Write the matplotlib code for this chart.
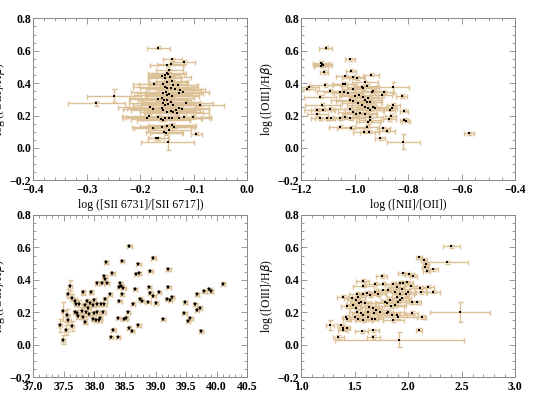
import numpy as np
import matplotlib
matplotlib.use('Agg')
import matplotlib.pyplot as plt
from matplotlib.ticker import AutoMinorLocator, MultipleLocator

plt.rcParams['font.family'] = 'serif'
plt.rcParams['font.serif'] = ['Liberation Serif', 'DejaVu Serif']
plt.rcParams['mathtext.fontset'] = 'custom'
plt.rcParams['mathtext.rm'] = 'Liberation Serif'

# panel 1: log([SII]6731/6717) vs log([OIII]/Hb)
sii_x = [-0.282, -0.249, -0.166, -0.140, -0.143, -0.118, -0.151, -0.146, -0.150, -0.153,
         -0.148, -0.160, -0.154, -0.145, -0.157, -0.174, -0.150, -0.140, -0.138, -0.129,
         -0.126, -0.121, -0.127, -0.154, -0.150, -0.143, -0.135, -0.152, -0.157, -0.151,
         -0.146, -0.140, -0.166, -0.160, -0.155, -0.150, -0.143, -0.157, -0.153, -0.148,
         -0.138, -0.115, -0.088, -0.127, -0.122, -0.134, -0.181, -0.177, -0.160, -0.157,
         -0.150, -0.143, -0.138, -0.132, -0.184, -0.187, -0.166, -0.162, -0.157, -0.154,
         -0.146, -0.140, -0.127, -0.118, -0.101, -0.176, -0.160, -0.151, -0.141, -0.137,
         -0.146, -0.155, -0.152, -0.170, -0.166, -0.095, -0.149]
sii_y = [0.276, 0.322, 0.618, 0.546, 0.519, 0.530, 0.509, 0.478, 0.464, 0.451,
         0.455, 0.441, 0.431, 0.435, 0.396, 0.396, 0.408, 0.410, 0.389, 0.389,
         0.358, 0.348, 0.338, 0.375, 0.369, 0.369, 0.365, 0.348, 0.338, 0.327,
         0.332, 0.323, 0.301, 0.307, 0.297, 0.297, 0.286, 0.276, 0.266, 0.270,
         0.266, 0.280, 0.266, 0.245, 0.239, 0.235, 0.255, 0.241, 0.245, 0.235,
         0.224, 0.228, 0.220, 0.214, 0.200, 0.183, 0.193, 0.179, 0.173, 0.183,
         0.187, 0.183, 0.183, 0.193, 0.191, 0.125, 0.132, 0.138, 0.142, 0.132,
         0.111, 0.101, 0.090, 0.059, 0.059, 0.088, 0.039]
sii_xerr = [0.053, 0.050, 0.022, 0.018, 0.025, 0.020, 0.030, 0.025, 0.035, 0.028,
            0.030, 0.025, 0.030, 0.040, 0.045, 0.040, 0.035, 0.030, 0.045, 0.035,
            0.040, 0.050, 0.045, 0.060, 0.050, 0.040, 0.055, 0.065, 0.050, 0.060,
            0.045, 0.050, 0.055, 0.060, 0.050, 0.045, 0.055, 0.065, 0.060, 0.050,
            0.040, 0.050, 0.045, 0.055, 0.050, 0.045, 0.060, 0.055, 0.065, 0.060,
            0.050, 0.045, 0.055, 0.060, 0.050, 0.045, 0.060, 0.055, 0.050, 0.045,
            0.060, 0.055, 0.060, 0.050, 0.030, 0.035, 0.055, 0.050, 0.045, 0.040,
            0.040, 0.035, 0.030, 0.015, 0.020, 0.010, 0.050]
sii_yerr = [0.015, 0.040, 0.010, 0.010, 0.010, 0.010, 0.010, 0.010, 0.010, 0.010,
            0.010, 0.010, 0.010, 0.010, 0.010, 0.010, 0.010, 0.010, 0.010, 0.010,
            0.010, 0.010, 0.010, 0.010, 0.010, 0.010, 0.010, 0.010, 0.010, 0.010,
            0.010, 0.010, 0.010, 0.010, 0.010, 0.010, 0.010, 0.010, 0.010, 0.010,
            0.010, 0.010, 0.010, 0.010, 0.010, 0.010, 0.010, 0.010, 0.010, 0.010,
            0.010, 0.010, 0.010, 0.010, 0.010, 0.010, 0.010, 0.010, 0.010, 0.010,
            0.010, 0.010, 0.010, 0.010, 0.010, 0.010, 0.010, 0.010, 0.010, 0.010,
            0.010, 0.010, 0.010, 0.010, 0.010, 0.010, 0.050]

# panel 2: log([NII]/[OII]) vs log([OIII]/Hb)
nii_x = [-1.109, -1.018, -1.128, -1.122, -1.126, -1.118, -1.115, -1.014, -0.941, -1.037,
         -1.006, -0.993, -1.112, -1.180, -1.170, -0.859, -1.093, -1.055, -1.039, -1.006,
         -1.024, -0.962, -0.956, -0.974, -0.968, -0.937, -0.931, -0.999, -0.983, -0.968,
         -0.962, -0.950, -0.943, -0.956, -1.130, -0.890, -0.900, -0.825, -1.018, -1.006,
         -0.987, -0.974, -0.962, -0.950, -0.943, -0.931, -0.925, -1.140, -1.120, -1.093,
         -1.121, -0.856, -0.862, -0.869, -1.018, -1.006, -0.996, -0.981, -0.962, -0.943,
         -1.018, -1.055, -1.037, -0.815, -1.140, -1.130, -1.105, -1.090, -0.866, -0.871,
         -0.815, -0.809, -0.943, -0.950, -1.055, -1.016, -0.956, -0.893, -0.879, -0.965,
         -0.946, -0.906, -0.818, -0.573, -1.044, -1.036]
nii_y = [0.618, 0.546, 0.525, 0.515, 0.507, 0.510, 0.468, 0.476, 0.451, 0.441,
         0.435, 0.431, 0.389, 0.365, 0.373, 0.373, 0.352, 0.342, 0.348, 0.365,
         0.338, 0.404, 0.385, 0.379, 0.369, 0.348, 0.352, 0.323, 0.327, 0.317,
         0.297, 0.307, 0.286, 0.282, 0.317, 0.344, 0.327, 0.321, 0.297, 0.290,
         0.276, 0.266, 0.255, 0.245, 0.235, 0.255, 0.245, 0.235, 0.235, 0.241,
         0.266, 0.266, 0.245, 0.235, 0.241, 0.224, 0.208, 0.214, 0.208, 0.193,
         0.183, 0.183, 0.189, 0.229, 0.208, 0.183, 0.183, 0.183, 0.200, 0.177,
         0.173, 0.167, 0.173, 0.158, 0.132, 0.125, 0.132, 0.121, 0.107, 0.101,
         0.101, 0.059, 0.039, 0.091, 0.394, 0.394]
nii_xerr = [0.025, 0.018, 0.030, 0.035, 0.025, 0.030, 0.015, 0.020, 0.030, 0.035,
            0.040, 0.030, 0.060, 0.030, 0.035, 0.060, 0.050, 0.060, 0.045, 0.040,
            0.055, 0.050, 0.045, 0.055, 0.060, 0.050, 0.045, 0.060, 0.070, 0.055,
            0.060, 0.050, 0.045, 0.055, 0.060, 0.035, 0.040, 0.020, 0.070, 0.065,
            0.060, 0.055, 0.050, 0.045, 0.050, 0.055, 0.060, 0.050, 0.045, 0.055,
            0.065, 0.025, 0.020, 0.020, 0.060, 0.055, 0.050, 0.060, 0.045, 0.050,
            0.055, 0.050, 0.045, 0.015, 0.040, 0.035, 0.045, 0.040, 0.020, 0.025,
            0.015, 0.015, 0.040, 0.045, 0.040, 0.050, 0.045, 0.025, 0.030, 0.040,
            0.035, 0.020, 0.062, 0.020, 0.040, 0.045]
nii_yerr = [0.010, 0.010, 0.010, 0.010, 0.010, 0.010, 0.010, 0.010, 0.010, 0.010,
            0.010, 0.010, 0.010, 0.010, 0.010, 0.035, 0.010, 0.010, 0.010, 0.010,
            0.010, 0.010, 0.010, 0.010, 0.010, 0.010, 0.010, 0.010, 0.010, 0.010,
            0.010, 0.010, 0.010, 0.010, 0.010, 0.010, 0.010, 0.010, 0.010, 0.010,
            0.010, 0.010, 0.010, 0.010, 0.010, 0.010, 0.010, 0.010, 0.010, 0.010,
            0.010, 0.010, 0.010, 0.010, 0.010, 0.010, 0.010, 0.010, 0.010, 0.010,
            0.010, 0.010, 0.010, 0.010, 0.010, 0.010, 0.010, 0.010, 0.010, 0.010,
            0.010, 0.010, 0.010, 0.010, 0.010, 0.010, 0.010, 0.010, 0.010, 0.010,
            0.010, 0.010, 0.046, 0.010, 0.010, 0.010]

# panel 3: log L(Ha) vs log([OIII]/Hb)
lum_x = [37.437, 37.481, 37.492, 37.536, 37.557, 37.574, 37.628, 37.568, 37.601, 37.628,
         37.683, 37.699, 37.754, 37.683, 37.721, 37.727, 37.792, 37.808, 37.819, 37.846,
         37.846, 37.863, 37.885, 37.901, 37.917, 37.928, 37.939, 37.972, 37.983, 37.994,
         37.999, 38.026, 38.037, 38.037, 38.048, 38.081, 38.092, 38.103, 38.119, 38.147,
         38.163, 38.163, 38.174, 38.174, 38.190, 38.200, 38.256, 38.272, 38.294, 38.310,
         38.381, 38.381, 38.403, 38.408, 38.419, 38.441, 38.447, 38.447, 38.474, 38.490,
         38.512, 38.545, 38.567, 38.572, 38.610, 38.627, 38.665, 38.681, 38.719, 38.719,
         38.730, 38.747, 38.774, 38.883, 38.893, 38.915, 38.915, 38.964, 38.964, 39.003,
         39.057, 39.117, 39.188, 39.210, 39.210, 39.237, 39.264, 39.472, 39.483, 39.526,
         39.570, 39.646, 39.674, 39.674, 39.728, 39.745, 39.799, 39.881, 39.908, 40.099]
lum_y = [0.119, 0.031, 0.206, 0.092, 0.181, 0.150, 0.115, 0.315, 0.363, 0.290,
         0.268, 0.253, 0.253, 0.201, 0.196, 0.175, 0.208, 0.323, 0.171, 0.140,
         0.243, 0.201, 0.270, 0.229, 0.187, 0.259, 0.325, 0.160, 0.243, 0.278,
         0.196, 0.154, 0.249, 0.381, 0.201, 0.154, 0.167, 0.253, 0.383, 0.201,
         0.249, 0.422, 0.284, 0.402, 0.507, 0.381, 0.311, 0.047, 0.439, 0.092,
         0.047, 0.165, 0.356, 0.270, 0.381, 0.363, 0.311, 0.517, 0.350, 0.160,
         0.167, 0.202, 0.105, 0.608, 0.084, 0.253, 0.342, 0.435, 0.497, 0.119,
         0.439, 0.284, 0.268, 0.264, 0.356, 0.321, 0.455, 0.301, 0.536, 0.259,
         0.325, 0.158, 0.282, 0.356, 0.464, 0.278, 0.294, 0.195, 0.261, 0.148,
         0.162, 0.249, 0.311, 0.216, 0.229, 0.082, 0.329, 0.342, 0.329, 0.377]
lum_yerr = [0.040, 0.030, 0.060, 0.030, 0.040, 0.030, 0.030, 0.030, 0.035, 0.020,
            0.020, 0.015, 0.020, 0.015, 0.015, 0.020, 0.015, 0.015, 0.015, 0.015,
            0.012, 0.012, 0.012, 0.012, 0.012, 0.012, 0.012, 0.012, 0.012, 0.012,
            0.012, 0.012, 0.012, 0.012, 0.012, 0.012, 0.012, 0.012, 0.012, 0.012,
            0.008, 0.008, 0.008, 0.008, 0.008, 0.008, 0.008, 0.008, 0.008, 0.008,
            0.008, 0.008, 0.008, 0.008, 0.008, 0.008, 0.008, 0.008, 0.008, 0.008,
            0.008, 0.008, 0.008, 0.008, 0.008, 0.008, 0.008, 0.008, 0.008, 0.008,
            0.008, 0.008, 0.008, 0.008, 0.008, 0.008, 0.008, 0.008, 0.008, 0.008,
            0.008, 0.008, 0.008, 0.008, 0.008, 0.008, 0.008, 0.008, 0.008, 0.008,
            0.008, 0.008, 0.008, 0.008, 0.008, 0.008, 0.008, 0.008, 0.008, 0.008]
lum_xerr = 0.035

# panel 4: log EW(Ha) vs log([OIII]/Hb)
ew_x = [2.402, 2.100, 2.147, 2.166, 2.156, 2.172, 2.234, 2.359, 1.751, 1.954,
        2.010, 2.047, 1.574, 1.580, 1.689, 1.767, 1.854, 1.923, 1.948, 1.991,
        1.891, 1.814, 1.938, 2.022, 2.110, 2.187, 2.234, 2.119, 1.876, 1.923,
        1.979, 2.000, 1.898, 1.938, 1.923, 1.907, 1.524, 1.580, 1.611, 1.642,
        1.720, 1.689, 1.767, 1.387, 1.471, 1.511, 1.533, 1.555, 1.596, 1.543,
        1.487, 1.511, 1.782, 1.798, 1.829, 1.839, 1.876, 1.636, 1.673, 1.698,
        1.736, 1.680, 1.627, 1.424, 2.032, 2.078, 1.814, 1.798, 1.845, 1.891,
        1.907, 1.860, 2.032, 2.125, 2.483, 1.518, 1.555, 1.502, 1.533, 1.580,
        1.627, 1.580, 1.418, 1.424, 1.689, 1.658, 1.268, 1.368, 1.393, 1.424,
        1.387, 1.564, 1.673, 2.100, 1.346, 1.673, 1.916]
ew_y = [0.606, 0.538, 0.522, 0.497, 0.480, 0.456, 0.464, 0.507, 0.423, 0.439,
        0.433, 0.425, 0.394, 0.363, 0.377, 0.377, 0.377, 0.381, 0.381, 0.384,
        0.357, 0.340, 0.342, 0.361, 0.351, 0.357, 0.326, 0.322, 0.326, 0.315,
        0.311, 0.326, 0.295, 0.285, 0.274, 0.264, 0.315, 0.315, 0.320, 0.305,
        0.311, 0.326, 0.336, 0.295, 0.285, 0.278, 0.295, 0.264, 0.254, 0.254,
        0.243, 0.229, 0.264, 0.254, 0.274, 0.237, 0.243, 0.233, 0.229, 0.212,
        0.202, 0.196, 0.202, 0.239, 0.260, 0.260, 0.202, 0.192, 0.181, 0.181,
        0.171, 0.151, 0.198, 0.171, 0.202, 0.202, 0.192, 0.171, 0.157, 0.151,
        0.171, 0.181, 0.171, 0.155, 0.161, 0.155, 0.120, 0.120, 0.105, 0.105,
        0.093, 0.082, 0.089, 0.093, 0.047, 0.047, 0.031]
ew_xerr = [0.080, 0.030, 0.030, 0.025, 0.025, 0.030, 0.040, 0.200, 0.050, 0.050,
           0.040, 0.030, 0.060, 0.100, 0.090, 0.070, 0.070, 0.050, 0.060, 0.050,
           0.080, 0.100, 0.080, 0.060, 0.060, 0.050, 0.060, 0.050, 0.090, 0.080,
           0.070, 0.060, 0.100, 0.090, 0.080, 0.100, 0.080, 0.070, 0.090, 0.080,
           0.070, 0.060, 0.070, 0.050, 0.070, 0.080, 0.060, 0.100, 0.090, 0.080,
           0.070, 0.060, 0.090, 0.100, 0.080, 0.120, 0.100, 0.090, 0.080, 0.100,
           0.120, 0.090, 0.080, 0.050, 0.050, 0.040, 0.150, 0.120, 0.140, 0.160,
           0.250, 0.100, 0.060, 0.040, 0.280, 0.070, 0.080, 0.060, 0.070, 0.080,
           0.090, 0.060, 0.040, 0.030, 0.070, 0.060, 0.040, 0.030, 0.040, 0.030,
           0.040, 0.060, 0.050, 0.030, 0.050, 0.060, 0.600]
ew_yerr = [0.010, 0.010, 0.010, 0.010, 0.010, 0.010, 0.010, 0.010, 0.010, 0.010,
           0.010, 0.010, 0.010, 0.010, 0.010, 0.010, 0.010, 0.010, 0.010, 0.010,
           0.010, 0.010, 0.010, 0.010, 0.010, 0.010, 0.010, 0.010, 0.010, 0.010,
           0.010, 0.010, 0.010, 0.010, 0.010, 0.010, 0.010, 0.010, 0.010, 0.010,
           0.010, 0.010, 0.010, 0.010, 0.010, 0.010, 0.010, 0.010, 0.010, 0.010,
           0.010, 0.010, 0.010, 0.010, 0.010, 0.010, 0.010, 0.010, 0.010, 0.010,
           0.010, 0.010, 0.010, 0.010, 0.010, 0.010, 0.010, 0.010, 0.010, 0.010,
           0.010, 0.010, 0.010, 0.010, 0.062, 0.010, 0.010, 0.010, 0.010, 0.010,
           0.010, 0.010, 0.010, 0.010, 0.010, 0.010, 0.030, 0.010, 0.010, 0.010,
           0.010, 0.010, 0.010, 0.010, 0.010, 0.010, 0.045]

ylab = r'log ([OIII]/H$\beta$)'
err_col = '#dcc197'

fig = plt.figure(figsize=(5.38, 3.97), dpi=100, facecolor='white')
W, H = 538.0, 397.0
boxes = [(33.3, 18.3), (301.3, 18.3), (33.3, 215.0), (301.3, 215.0)]
axs = [fig.add_axes([l / W, 1 - (t + 162) / H, 214 / W, 162 / H]) for l, t in boxes]


def style(ax, xlim, xmaj, xlabel):
    ax.set_xlim(*xlim)
    ax.set_ylim(-0.2, 0.8)
    ax.xaxis.set_major_locator(MultipleLocator(xmaj))
    ax.yaxis.set_major_locator(MultipleLocator(0.2))
    ax.xaxis.set_minor_locator(AutoMinorLocator())
    ax.yaxis.set_minor_locator(AutoMinorLocator())
    ax.tick_params(which='both', direction='in', top=True, right=True,
                   color='#888888', width=0.6, labelsize=8.5)
    ax.tick_params(which='major', length=4)
    ax.tick_params(which='minor', length=2)
    ax.tick_params(axis='x', pad=3)
    ax.tick_params(axis='y', pad=1.5)
    for lab in ax.get_xticklabels() + ax.get_yticklabels():
        lab.set_fontweight('bold')
    for s in ax.spines.values():
        s.set_color('#888888')
        s.set_linewidth(0.7)
    ax.set_xlabel(xlabel, fontsize=8.5)
    ax.xaxis.set_label_coords(0.5, -0.115)
    ax.set_ylabel(ylab, fontsize=8.5)
    ax.yaxis.set_label_coords(-0.123, 0.5)


def draw(ax, x, y, xe, ye, marker, ms):
    ax.errorbar(x, y, xerr=xe, yerr=ye, fmt='none', ecolor=err_col,
                elinewidth=1.0, capsize=1.8, capthick=1.0, zorder=2)
    ax.plot(x, y, marker, color='black', ms=ms, mew=0, zorder=3)


draw(axs[0], sii_x, sii_y, sii_xerr, sii_yerr, 's', 1.8)
style(axs[0], (-0.4, 0.0), 0.1, 'log ([SII 6731]/[SII 6717])')

draw(axs[1], nii_x, nii_y, nii_xerr, nii_yerr, 's', 1.8)
style(axs[1], (-1.2, -0.4), 0.2, 'log ([NII]/[OII])')

draw(axs[2], lum_x, lum_y, lum_xerr, lum_yerr, '*', 3.6)
style(axs[2], (37.0, 40.5), 0.5, r'log (L(H$\alpha$))')

draw(axs[3], ew_x, ew_y, ew_xerr, ew_yerr, 's', 1.8)
style(axs[3], (1.0, 3.0), 0.5, r'log (EW(H$\alpha$))')

fig.savefig('out.png', dpi=100)
